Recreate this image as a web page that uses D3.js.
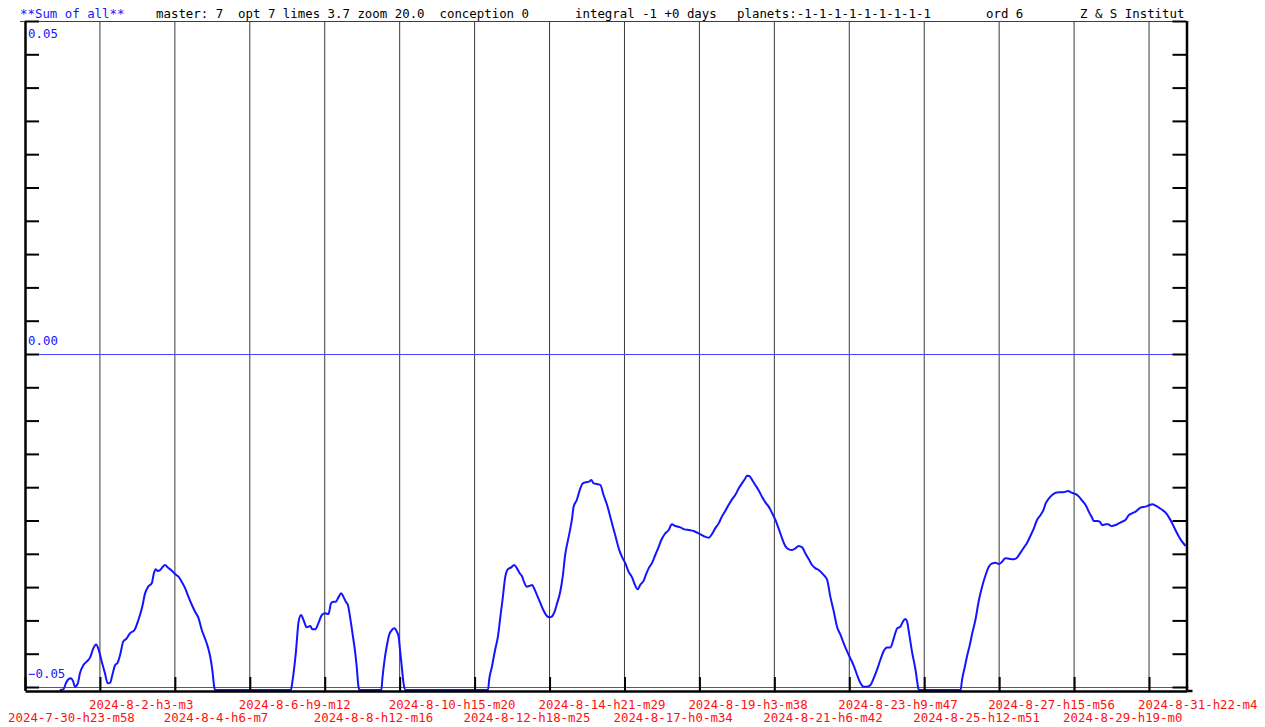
<!DOCTYPE html>
<html>
<head>
<meta charset="utf-8">
<script src="https://cdn.jsdelivr.net/npm/d3@7/dist/d3.min.js"></script>
<style>
  body { margin: 0; background: #fff; }
  svg { display: block; }
  text { font-family: "DejaVu Sans Mono", monospace; font-size: 12.4px; white-space: pre; }
</style>
</head>
<body>
<svg width="1265" height="727"></svg>
<script>
// header pieces: [text, colour]
var headerTexts = [
    ["**Sum of all**", "#1515ff"],
    ["master: 7  opt 7 limes 3.7 zoom 20.0  conception 0", "#000"],
    ["integral -1 +0 days", "#000"],
    ["planets:-1-1-1-1-1-1-1-1-1", "#000"],
    ["ord 6", "#000"],
    ["Z & S Institut", "#000"]
];

// one label per vertical grid line, 51h04m apart
var tickLabels = [
    "2024-7-30-h23-m58", "2024-8-2-h3-m3", "2024-8-4-h6-m7", "2024-8-6-h9-m12",
    "2024-8-8-h12-m16", "2024-8-10-h15-m20", "2024-8-12-h18-m25", "2024-8-14-h21-m29",
    "2024-8-17-h0-m34", "2024-8-19-h3-m38", "2024-8-21-h6-m42", "2024-8-23-h9-m47",
    "2024-8-25-h12-m51", "2024-8-27-h15-m56", "2024-8-29-h19-m0", "2024-8-31-h22-m4"
];
var stepDays = 2.12805;      // days between grid lines
var spanSteps = 15.5;        // width of the plot in grid steps

var yLabelValues = [0.05, 0.00, -0.05];
var yMin = -0.05045, yMax = 0.05;

// [days since 2024-7-30 23:58, value]; values under the floor are clipped
var curve = [
    [0.99,-.0505],[1.09,-.05035],[1.16,-.04945],[1.23,-.04885],[1.31,-.0487],[1.37,-.0492],
    [1.42,-.04995],[1.50,-.04945],[1.56,-.04795],[1.66,-.0467],[1.75,-.0462],[1.85,-.04555],
    [1.94,-.0442],[2.02,-.0436],[2.08,-.0442],[2.18,-.0462],[2.27,-.04795],[2.35,-.04945],
    [2.42,-.04935],[2.48,-.0482],[2.56,-.0467],[2.63,-.04635],[2.70,-.0452],[2.79,-.04319],
    [2.89,-.04269],[2.98,-.04194],[3.11,-.04144],[3.22,-.03994],[3.32,-.03819],[3.41,-.03594],
    [3.50,-.03493],[3.60,-.03443],[3.66,-.03293],[3.71,-.03233],[3.77,-.03258],[3.84,-.03243],
    [3.90,-.03203],[3.98,-.03168],[4.05,-.03203],[4.17,-.03253],[4.26,-.03303],[4.36,-.03343],
    [4.45,-.03418],[4.55,-.03518],[4.64,-.03643],[4.74,-.03769],[4.83,-.03869],[4.93,-.03969],
    [5.02,-.04144],[5.11,-.04269],[5.19,-.04394],[5.26,-.04545],[5.32,-.04745],[5.38,-.0502],
    [5.40,-.052],
    [7.55,-.052],[7.58,-.0497],[7.62,-.0482],[7.69,-.04495],[7.77,-.04019],[7.84,-.03919],
    [7.91,-.03994],[8.00,-.04104],[8.10,-.04084],[8.16,-.04134],[8.24,-.04134],[8.33,-.04044],
    [8.43,-.03919],[8.52,-.03894],[8.62,-.03904],[8.69,-.03744],[8.76,-.03719],[8.83,-.03719],
    [8.90,-.03654],[8.98,-.03594],[9.04,-.03643],[9.11,-.03719],[9.17,-.03769],[9.23,-.03944],
    [9.30,-.04194],[9.38,-.04495],[9.42,-.04695],[9.47,-.04995],[9.50,-.052],
    [10.12,-.052],[10.15,-.0487],[10.21,-.04595],[10.28,-.04369],[10.34,-.04219],[10.42,-.04144],
    [10.49,-.04119],[10.56,-.04169],[10.61,-.04244],[10.65,-.04444],[10.70,-.04695],[10.75,-.04945],
    [10.80,-.052],
    [13.15,-.052],[13.18,-.04895],[13.26,-.04695],[13.35,-.04444],[13.43,-.04244],[13.50,-.03944],
    [13.56,-.03694],[13.64,-.03343],[13.71,-.03233],[13.81,-.03203],[13.89,-.03168],[13.97,-.03218],
    [14.05,-.03293],[14.11,-.03333],[14.18,-.03433],[14.25,-.03493],[14.32,-.03483],[14.40,-.03468],
    [14.47,-.03533],[14.54,-.03619],[14.63,-.03734],[14.73,-.03854],[14.82,-.03934],[14.90,-.03954],
    [14.96,-.03944],[15.04,-.03869],[15.11,-.03744],[15.20,-.03569],[15.27,-.03343],[15.34,-.03018],
    [15.44,-.02743],[15.53,-.02492],[15.58,-.02292],[15.67,-.02192],[15.77,-.02017],[15.84,-.01942],
    [15.93,-.01927],[16.02,-.01917],[16.08,-.01892],[16.15,-.01942],[16.24,-.01952],[16.34,-.01967],
    [16.43,-.02117],[16.53,-.02267],[16.62,-.02442],[16.69,-.02583],[16.76,-.02718],[16.86,-.02918],
    [16.95,-.03043],[17.05,-.03143],[17.14,-.03268],[17.24,-.03353],[17.31,-.03453],[17.40,-.03533],
    [17.47,-.03468],[17.57,-.03403],[17.63,-.03318],[17.71,-.03218],[17.81,-.03133],[17.90,-.03018],
    [17.99,-.02903],[18.07,-.02793],[18.17,-.02703],[18.28,-.02643],[18.37,-.02558],[18.47,-.02583],
    [18.61,-.02603],[18.73,-.02633],[18.85,-.02643],[18.99,-.02658],[19.13,-.02693],[19.27,-.02733],
    [19.42,-.02758],[19.51,-.02703],[19.60,-.02618],[19.70,-.02543],[19.79,-.02442],[19.89,-.02352],
    [19.98,-.02267],[20.08,-.02182],[20.17,-.02117],[20.27,-.02017],[20.36,-.01942],[20.44,-.01882],
    [20.50,-.01827],[20.57,-.01832],[20.65,-.01892],[20.74,-.01967],[20.84,-.02052],[20.93,-.02142],
    [21.03,-.02232],[21.12,-.02292],[21.21,-.02382],[21.31,-.02492],[21.40,-.02618],[21.50,-.02768],
    [21.59,-.02883],[21.69,-.02933],[21.78,-.02943],[21.88,-.02918],[21.97,-.02883],[22.07,-.02903],
    [22.16,-.02993],[22.26,-.03083],[22.35,-.03168],[22.45,-.03218],[22.54,-.03243],[22.68,-.03318],
    [22.78,-.03393],[22.87,-.03643],[22.97,-.03869],[23.06,-.04094],[23.16,-.04219],[23.25,-.04344],
    [23.35,-.0447],[23.44,-.0457],[23.54,-.04685],[23.63,-.0482],[23.72,-.04935],[23.82,-.04995],
    [23.91,-.04995],[24.01,-.0497],[24.10,-.0487],[24.20,-.04735],[24.29,-.04595],[24.39,-.04455],
    [24.48,-.04405],[24.58,-.04405],[24.67,-.04269],[24.77,-.04119],[24.86,-.04094],[24.93,-.04019],
    [25.00,-.03979],[25.05,-.04019],[25.10,-.04169],[25.19,-.0447],[25.29,-.04745],[25.36,-.04995],
    [25.38,-.052],
    [26.57,-.052],[26.61,-.04895],[26.69,-.04695],[26.76,-.0452],[26.82,-.04394],[26.90,-.04194],
    [26.99,-.03994],[27.09,-.03694],[27.18,-.03493],[27.28,-.03318],[27.37,-.03193],[27.47,-.03143],
    [27.56,-.03133],[27.66,-.03153],[27.75,-.03118],[27.84,-.03068],[27.94,-.03073],[28.08,-.03083],
    [28.18,-.03053],[28.27,-.02983],[28.37,-.02903],[28.46,-.02833],[28.55,-.02733],[28.65,-.02618],
    [28.74,-.02492],[28.84,-.02417],[28.93,-.02332],[28.98,-.02252],[29.08,-.02167],[29.17,-.02117],
    [29.27,-.02082],[29.36,-.02077],[29.45,-.02077],[29.55,-.02067],[29.62,-.02057],[29.72,-.02082],
    [29.83,-.02102],[29.93,-.02142],[30.02,-.02202],[30.12,-.02267],[30.21,-.02367],[30.31,-.02467],
    [30.35,-.02508],[30.45,-.02508],[30.52,-.02518],[30.59,-.02568],[30.69,-.02558],[30.76,-.02558],
    [30.86,-.02583],[30.97,-.02568],[31.06,-.02543],[31.16,-.02518],[31.25,-.02492],[31.35,-.02417],
    [31.44,-.02392],[31.54,-.02367],[31.68,-.02307],[31.82,-.02292],[31.94,-.02267],[32.01,-.02257],
    [32.11,-.02277],[32.20,-.02307],[32.30,-.02342],[32.41,-.02392],[32.49,-.02457],[32.58,-.02543],
    [32.67,-.02643],[32.77,-.02743],[32.86,-.02818],[32.96,-.02883]
];

var headerX = [20, 156, 575, 737, 986, 1080];

var svg = d3.select("svg");
// note: "top" is a read-only global in browsers, so use plot* names
var plotLeft = 25, plotRight = 1186.5, plotTop = 21, plotBottom = 690;

var x = d3.scaleLinear().domain([0, spanSteps * stepDays]).range([plotLeft, plotRight]);
var y = d3.scaleLinear().domain([yMin, yMax]).range([plotBottom, plotTop]).clamp(true);

var gridDays = tickLabels.map(function(d, i) { return i * stepDays; });
var yTicks = d3.range(-10, 11).map(function(i) { return i * 0.005; });

// header
svg.append("g").selectAll("text")
    .data(headerTexts)
    .enter().append("text")
    .attr("x", function(d, i) { return headerX[i]; })
    .attr("y", 18)
    .attr("fill", function(d) { return d[1]; })
    .text(function(d) { return d[0]; });

// vertical grid
svg.append("g").selectAll("line")
    .data(gridDays.slice(1))
    .enter().append("line")
    .attr("x1", function(d) { return x(d); })
    .attr("x2", function(d) { return x(d); })
    .attr("y1", plotTop)
    .attr("y2", plotBottom)
    .attr("stroke", "#3a3a3a")
    .attr("stroke-width", 1);

// blue level lines at +0.05, 0, -0.05
svg.append("g").selectAll("line")
    .data(yLabelValues)
    .enter().append("line")
    .attr("x1", function(d) { return d === yMax ? 20 : plotLeft; })
    .attr("x2", plotRight + 2)
    .attr("y1", function(d) { return Math.round(y(d)) + 0.5; })
    .attr("y2", function(d) { return Math.round(y(d)) + 0.5; })
    .attr("stroke", function(d) { return d === yMax ? "#3030a8" : "#4646ff"; })
    .attr("stroke-width", 1);

// the curve
var line = d3.line()
    .x(function(d) { return x(d[0]); })
    .y(function(d) { return y(d[1]); })
    .curve(d3.curveMonotoneX);

svg.append("path")
    .datum(curve)
    .attr("fill", "none")
    .attr("stroke", "#1414ff")
    .attr("stroke-width", 2)
    .attr("stroke-linejoin", "round")
    .attr("d", line);

// axes with inward ticks
var leftAxis = d3.axisLeft(y).tickValues(yTicks).tickSize(-14).tickSizeOuter(0).tickFormat("");
var rightAxis = d3.axisRight(y).tickValues(yTicks).tickSize(-14).tickSizeOuter(0).tickFormat("");
var bottomAxis = d3.axisBottom(x).tickValues(gridDays).tickSize(-14).tickSizeOuter(0).tickFormat("");

function styleAxis(g) {
    g.selectAll("path").attr("stroke", "#000").attr("stroke-width", 2.5);
    g.selectAll("line").attr("stroke", "#000").attr("stroke-width", 2);
}

svg.append("g").attr("transform", "translate(" + plotLeft + ",0)").call(leftAxis).call(styleAxis);
svg.append("g").attr("transform", "translate(" + plotRight + ",0)").call(rightAxis).call(styleAxis);
svg.append("g").attr("transform", "translate(0," + (plotBottom + 1) + ")").call(bottomAxis).call(styleAxis);
svg.append("line")
    .attr("x1", plotRight).attr("x2", plotRight + 6)
    .attr("y1", plotBottom + 1).attr("y2", plotBottom + 1)
    .attr("stroke", "#000").attr("stroke-width", 2.5);

// y labels
svg.append("g").selectAll("text")
    .data(yLabelValues)
    .enter().append("text")
    .attr("x", 28)
    .attr("y", function(d) { return d === yMax ? y(d) + 17 : y(d) - 9; })
    .attr("fill", "#1515ff")
    .text(function(d) { return d3.format(".2f")(d); });

// x labels, alternating rows
svg.append("g").selectAll("text")
    .data(tickLabels)
    .enter().append("text")
    .attr("x", function(d, i) { return x(gridDays[i]) - (i === 0 ? 17 : 11); })
    .attr("y", function(d, i) { return i % 2 ? 709 : 722; })
    .attr("fill", "#ff1010")
    .text(function(d) { return d; });
</script>
</body>
</html>
